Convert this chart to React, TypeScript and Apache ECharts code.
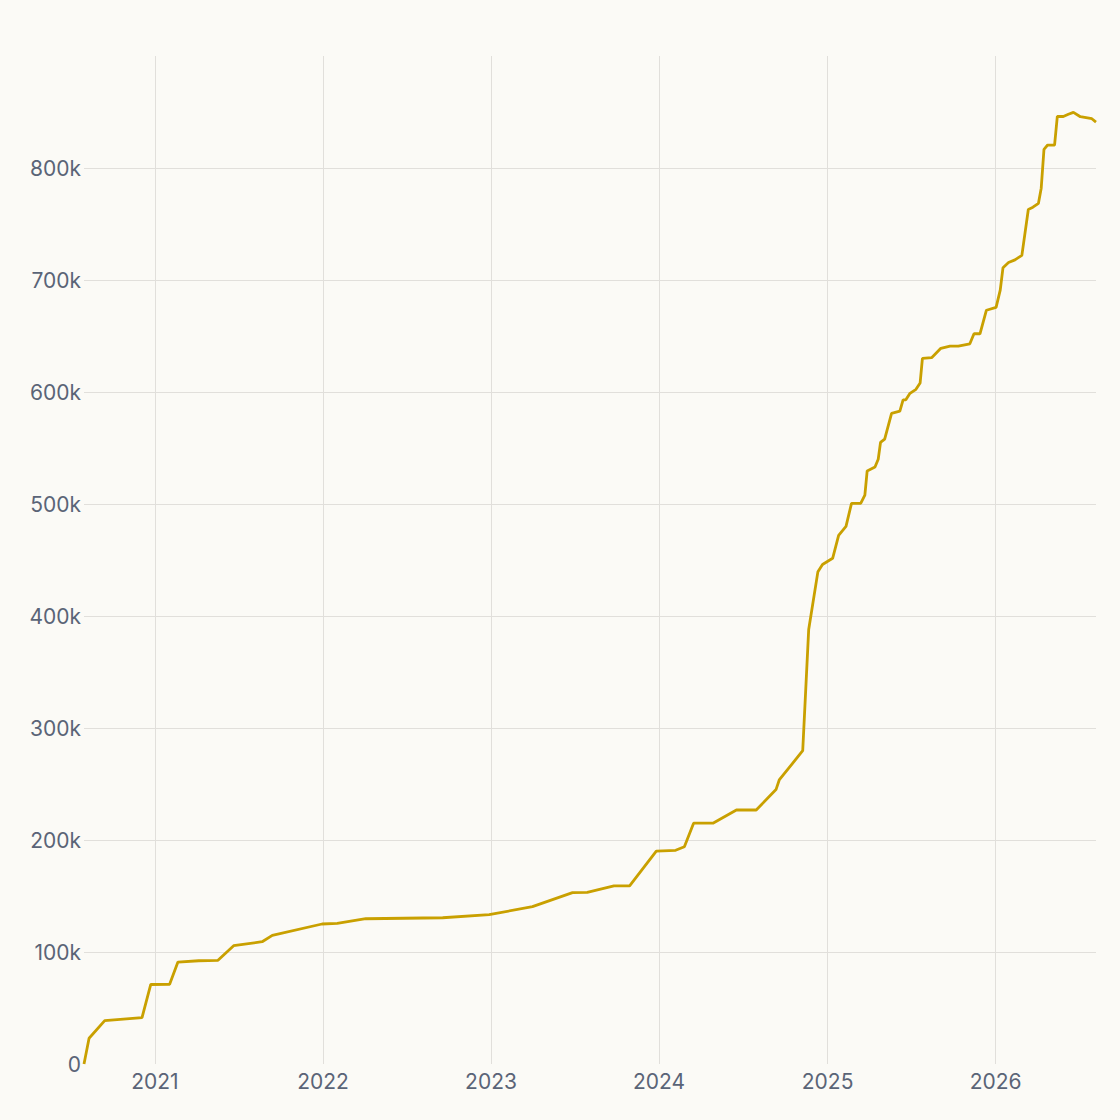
import React, { useEffect, useRef } from "react";
import * as echarts from "echarts";

// dates, one per point of the line
const dates = [
  "2020-07-31", "2020-08-11", "2020-09-14", "2020-12-04", "2020-12-23",
  "2021-02-02", "2021-02-20", "2021-04-06", "2021-05-18", "2021-06-21",
  "2021-08-22", "2021-09-13", "2021-12-30", "2022-02-01", "2022-04-04",
  "2022-09-18", "2022-12-28", "2023-04-01", "2023-06-27", "2023-07-29",
  "2023-09-25", "2023-10-29", "2023-12-26", "2024-02-06", "2024-02-25",
  "2024-03-16", "2024-04-27", "2024-06-17", "2024-07-30", "2024-09-11",
  "2024-09-18", "2024-11-08", "2024-11-21", "2024-12-11", "2024-12-21",
  "2025-01-12", "2025-01-25", "2025-02-10", "2025-02-22", "2025-03-14",
  "2025-03-23", "2025-03-28", "2025-04-14", "2025-04-21", "2025-04-26",
  "2025-05-05", "2025-05-20", "2025-06-07", "2025-06-14", "2025-06-20",
  "2025-06-29", "2025-07-12", "2025-07-21", "2025-07-26", "2025-08-15",
  "2025-09-04", "2025-09-24", "2025-10-12", "2025-11-06", "2025-11-15",
  "2025-11-28", "2025-12-12", "2026-01-02", "2026-01-11", "2026-01-17",
  "2026-01-29", "2026-02-12", "2026-02-27", "2026-03-13", "2026-03-23",
  "2026-04-04", "2026-04-10", "2026-04-16", "2026-04-24", "2026-05-09",
  "2026-05-15", "2026-05-28", "2026-06-08", "2026-06-19", "2026-07-04",
  "2026-07-29", "2026-08-07",
];

const totals = [
  0, 23000, 38700, 41400, 71000,
  71200, 91000, 92200, 92600, 105600,
  109200, 114900, 125000, 125600, 129700,
  130600, 133300, 140500, 153000, 153200,
  159000, 159000, 190000, 190800, 194000,
  215000, 215000, 226800, 226800, 245000,
  253600, 279700, 388000, 439600, 446000,
  451500, 472000, 480000, 500600, 500600,
  508000, 529500, 533000, 540000, 555000,
  558000, 581000, 583000, 593000, 593000,
  598800, 602400, 608000, 630000, 630600,
  639000, 641000, 641000, 643000, 652000,
  652000, 673000, 675500, 691000, 711000,
  715600, 718000, 722000, 763000, 765000,
  768500, 782000, 816700, 820500, 820500,
  846000, 846000, 848000, 849700, 845800,
  844000, 841000,
];

const yearTicks = ["2021-01-01", "2022-01-01", "2023-01-01", "2024-01-01", "2025-01-01", "2026-01-01"];

const toTime = (d: string) => new Date(d + "T00:00:00").getTime();

const App: React.FC = () => {
  const chartRef = useRef<HTMLDivElement | null>(null);

  useEffect(() => {
    if (!chartRef.current) return;
    const chart = echarts.init(chartRef.current, undefined, { renderer: "svg" });

    const times = dates.map(toTime);
    const tickTimes = yearTicks.map(toTime);
    const labelStyle = {
      color: "#5a6477",
      fontFamily: "Inter",
      fontSize: 21,
    };

    chart.setOption({
      animation: false,
      backgroundColor: "#fbfaf6",
      grid: { left: 84, right: 24, top: 56, bottom: 56 },
      xAxis: {
        type: "value",
        min: times[0],
        max: times[times.length - 1],
        axisLine: { show: false },
        axisTick: { show: false, customValues: tickTimes },
        axisLabel: {
          ...labelStyle,
          margin: 7,
          customValues: tickTimes,
          formatter: (v: number) => String(new Date(v).getFullYear()),
        },
        splitLine: { show: true, lineStyle: { color: "#e1dfdb", width: 1 } },
      },
      yAxis: {
        type: "value",
        min: 0,
        max: 900000,
        interval: 100000,
        axisLine: { show: false },
        axisTick: { show: false },
        axisLabel: {
          ...labelStyle,
          margin: 3,
          showMaxLabel: false,
          formatter: (v: number) => (v === 0 ? "0" : v / 1000 + "k"),
        },
        splitLine: {
          show: true,
          showMinLine: false,
          showMaxLine: false,
          lineStyle: { color: "#e1dfdb", width: 1 },
        },
      },
      series: [
        {
          type: "line",
          data: times.map((t, i) => [t, totals[i]]),
          showSymbol: false,
          lineStyle: { color: "#c9a000", width: 2.8 },
          itemStyle: { color: "#c9a000" },
        },
      ],
    });

    const handleResize = () => chart.resize();
    window.addEventListener("resize", handleResize);
    return () => {
      window.removeEventListener("resize", handleResize);
      chart.dispose();
    };
  }, []);

  return (
    <div
      ref={chartRef}
      style={{ position: "absolute", left: 0, top: 0, width: 1120, height: 1120 }}
    />
  );
};

export default App;
